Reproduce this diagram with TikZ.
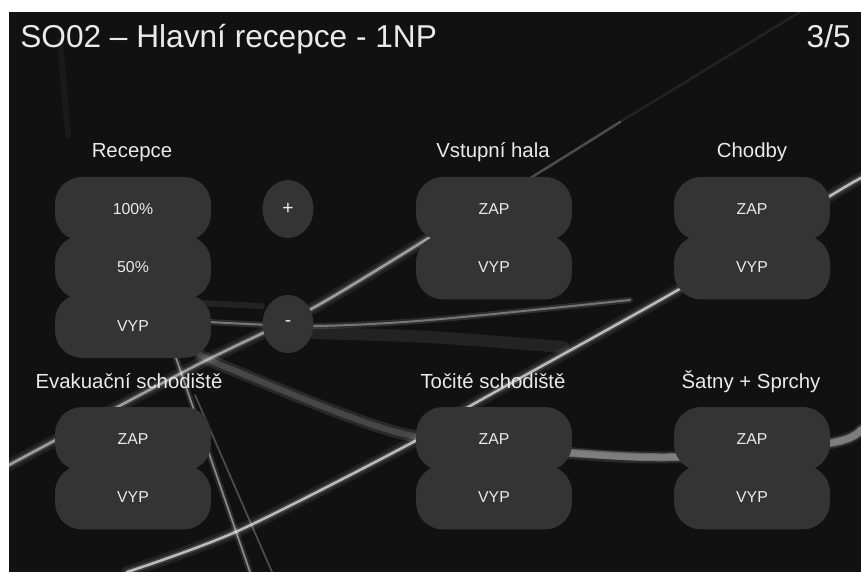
\documentclass[tikz,border=0pt]{standalone}
\usepackage{fontspec}
\setmainfont{Liberation Sans}
\usetikzlibrary{positioning,shapes.geometric}
\definecolor{screenbg}{RGB}{17,17,17}
\definecolor{btnfill}{RGB}{52,52,52}
\definecolor{btntext}{RGB}{234,234,234}

\begin{document}
\begin{tikzpicture}[
    x=0.02cm, y=-0.02cm,
    node distance=-1.26mm,
    every node/.style={text=btntext, inner sep=0pt},
    title/.style={font=\fontsize{18}{20}\selectfont},
    group/.style={font=\fontsize{11.6}{13}\selectfont},
    pill/.style={fill=btnfill, rounded corners=5.4mm, minimum width=31.2mm, minimum height=12.8mm, font=\fontsize{9}{11}\selectfont},
    dial/.style={ellipse, fill=btnfill, minimum width=10.2mm, minimum height=11.6mm, font=\fontsize{11}{13}\selectfont},
    glow/.style={white, line cap=round, opacity=0.07, line width=2.4mm},
    haze/.style={white, line cap=round, opacity=0.14, line width=1.2mm},
    streak/.style={white, line cap=round, opacity=0.5, line width=0.5mm}
]
\useasboundingbox (0,0) rectangle (861,572);
\fill[white] (0,0) rectangle (861,572);
\fill[screenbg] (9,12) rectangle (861,572);

% background light streaks
\begin{scope}
\clip (9,12) rectangle (861,572);
% long rising line, lower left to upper right
\draw[glow] plot[smooth] coordinates {(9,465) (193,367) (313,308) (430,237)};
\draw[haze] plot[smooth] coordinates {(9,465) (193,367) (313,308) (430,237)};
\draw[streak] plot[smooth] coordinates {(9,465) (193,367) (313,308) (430,237)};
\draw[streak, opacity=0.25] plot[smooth] coordinates {(430,237) (527,180) (620,122)};
\draw[streak, opacity=0.08] (620,122) -- (800,12);
% bright line up to Chodby
\draw[glow] plot[smooth] coordinates {(127,572) (240,530) (417,440) (463,410) (683,287) (830,196) (861,178)};
\draw[haze] plot[smooth] coordinates {(127,572) (240,530) (417,440) (463,410) (683,287) (830,196) (861,178)};
\draw[streak, opacity=0.65] plot[smooth] coordinates {(127,572) (240,530) (417,440) (463,410) (683,287) (830,196) (861,178)};
% flat lines through the minus dial
\draw[haze, opacity=0.12] plot[smooth] coordinates {(210,322) (313,326) (430,320) (630,300)};
\draw[streak, opacity=0.35, line width=0.4mm] plot[smooth] coordinates {(210,322) (313,326) (430,320) (630,300)};
\draw[glow, opacity=0.08] plot[smooth] coordinates {(313,333) (430,337) (563,347)};
\draw[haze, opacity=0.08] (200,303) -- (262,306);
% wide band behind the lower row
\draw[glow, opacity=0.1] plot[smooth] coordinates {(200,355) (233,370) (400,433) (570,453) (677,457) (830,443) (861,430)};
\draw[haze, opacity=0.14] plot[smooth] coordinates {(200,355) (233,370) (400,433) (570,453) (677,457) (830,443) (861,430)};
\draw[haze, opacity=0.3, line width=1.6mm] plot[smooth] coordinates {(540,451) (570,453) (677,457) (830,443) (861,430)};
% steep lines at bottom left
\draw[haze, opacity=0.1] (175,355) -- (250,572);
\draw[streak, opacity=0.45, line width=0.35mm] (175,355) -- (250,572);
\draw[streak, opacity=0.25, line width=0.35mm] (195,395) -- (272,572);
\draw[haze, opacity=0.04] (60,40) -- (68,135);
\end{scope}

% heading
\node[title, anchor=base west] (head) at (20,47) {SO02 – Hlavní recepce - 1NP};
\node[title, anchor=base east] (page) at (851,47) {3/5};

% Recepce
\node[group, anchor=base] (recL) at (132,157) {Recepce};
\node[pill] (rec1) at (133,209) {100\%};
\node[pill, below=of rec1] (rec2) {50\%};
\node[pill, below=of rec2] (rec3) {VYP};
\node[dial] (plus) at (288,209) {+};
\node[dial] (minus) at (288,324) {-};

% Vstupni hala
\node[group, anchor=base] (halL) at (493,157) {Vstupní hala};
\node[pill] (hal1) at (494,209) {ZAP};
\node[pill, below=of hal1] (hal2) {VYP};

% Chodby
\node[group, anchor=base] (choL) at (752,157) {Chodby};
\node[pill] (cho1) at (752,209) {ZAP};
\node[pill, below=of cho1] (cho2) {VYP};

% Evakuacni schodiste
\node[group, anchor=base] (evaL) at (129,388) {Evakuační schodiště};
\node[pill] (eva1) at (133,439) {ZAP};
\node[pill, below=of eva1] (eva2) {VYP};

% Tocite schodiste
\node[group, anchor=base] (tocL) at (493,388) {Točité schodiště};
\node[pill] (toc1) at (494,439) {ZAP};
\node[pill, below=of toc1] (toc2) {VYP};

% Satny + Sprchy
\node[group, anchor=base] (satL) at (751,388) {Šatny + Sprchy};
\node[pill] (sat1) at (752,439) {ZAP};
\node[pill, below=of sat1] (sat2) {VYP};

\end{tikzpicture}
\end{document}
